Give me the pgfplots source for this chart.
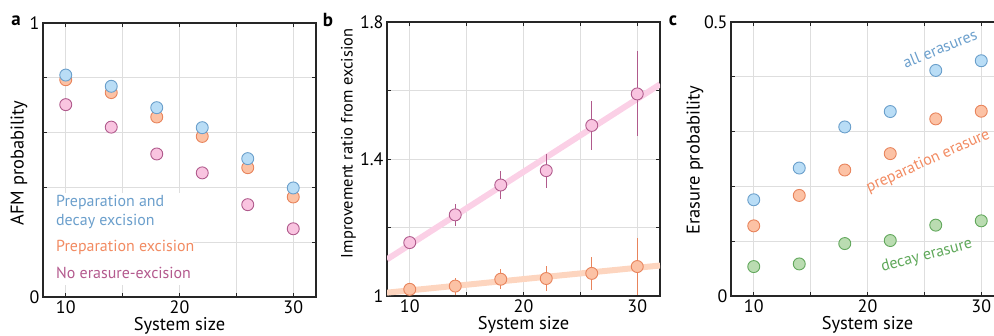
\documentclass[border=0pt]{standalone}
\usepackage{fontspec}
\setmainfont{PT Sans}
\usepackage{pgfplots}
\pgfplotsset{compat=1.18}

\definecolor{bfill}{HTML}{B9DDF6}
\definecolor{bedge}{HTML}{6A9FCB}
\definecolor{ofill}{HTML}{FCC2A5}
\definecolor{oedge}{HTML}{E8845C}
\definecolor{pfill}{HTML}{F9C4E0}
\definecolor{pedge}{HTML}{B05A8C}
\definecolor{gfill}{HTML}{BADCB1}
\definecolor{gedge}{HTML}{62A85C}
\definecolor{btext}{HTML}{6B9FCC}
\definecolor{otext}{HTML}{F28B62}
\definecolor{ptext}{HTML}{B45A8E}
\definecolor{gtext}{HTML}{5FA85A}
\definecolor{pline}{HTML}{FBD0E6}
\definecolor{oline}{HTML}{FDD5BF}

\pgfplotsset{
  panel/.style={
    scale only axis, width=273bp, height=274bp, anchor=south west,
    xmin=8, xmax=32,
    xtick={10,15,20,25,30}, xticklabels={10,,20,,30},
    grid=major, major grid style={draw=black!13, line width=0.8bp},
    axis line style={line width=1.1bp, black!85},
    tick style={black!85, line width=0.8bp},
    major tick length=4bp,
    tick align=inside,
    font=\fontsize{16}{19}\selectfont,
    tick label style={font=\fontsize{18}{21}\selectfont},
    label style={font=\fontsize{18.5}{21}\selectfont},
    /pgf/number format/assume math mode=true,
    xlabel={System size},
    xlabel style={at={(axis description cs:0.5,-0.104)}, anchor=center},
  },
  mk/.style n args={2}{only marks, mark=*, mark size=6bp,
    mark options={fill=#1, draw=#2, line width=0.9bp}},
  eb/.style={error bars/.cd, y dir=both, y explicit, error mark=none,
    error bar style={line width=1.2bp, color=#1}},
}

\begin{document}
\begin{tikzpicture}
% ---------------- panel a ----------------
\begin{axis}[panel, at={(43bp,39bp)},
  ymin=0, ymax=1, ytick={0,0.2,0.4,0.6,0.8,1}, yticklabels={0,,,,,1},
  ylabel={AFM probability},
  ylabel style={at={(axis description cs:-0.088,0.489)}, anchor=center}]
\fill[white] (axis cs:8.12,0.045) rectangle (axis cs:21.2,0.38);
\addplot[mk={pfill}{pedge}] coordinates {(10,0.702) (14,0.620) (18,0.522) (22,0.453) (26,0.337) (30,0.249)};
\addplot[mk={ofill}{oedge}] coordinates {(10,0.793) (14,0.746) (18,0.657) (22,0.586) (26,0.472) (30,0.365)};
\addplot[mk={bfill}{bedge}] coordinates {(10,0.810) (14,0.769) (18,0.691) (22,0.618) (26,0.505) (30,0.398)};
\node[anchor=west, text=btext, inner sep=0pt] at (axis cs:9.14,0.344) {Preparation and};
\node[anchor=west, text=btext, inner sep=0pt] at (axis cs:9.14,0.275) {decay excision};
\node[anchor=west, text=otext, inner sep=0pt] at (axis cs:9.14,0.180) {Preparation excision};
\node[anchor=west, text=ptext, inner sep=0pt] at (axis cs:9.14,0.0865) {No erasure-excision};
\end{axis}
% ---------------- panel b ----------------
\begin{axis}[panel, at={(387bp,40bp)},
  ymin=1, ymax=1.8, ytick={1,1.2,1.4,1.6,1.8}, yticklabels={1,,1.4,,1.8},
  ylabel={Improvement ratio from excision},
  ylabel style={at={(axis description cs:-0.141,0.557)}, anchor=center,
    font=\fontsize{16.5}{19}\selectfont}]
\addplot[pline, line width=6bp] coordinates {(8,1.107) (32,1.618)};
\addplot[oline, line width=6bp] coordinates {(8,1.0098) (32,1.089)};
\addplot[mk={pfill}{pedge}, eb=pedge] table[x=x, y=y, y error=e] {
x y e
10 1.156 0.018
14 1.237 0.032
18 1.324 0.042
22 1.366 0.050
26 1.498 0.072
30 1.590 0.124
};
\addplot[mk={ofill}{oedge}, eb=oedge] table[x=x, y=y, y error=e] {
x y e
10 1.0195 0.012
14 1.029 0.025
18 1.049 0.030
22 1.051 0.037
26 1.066 0.049
30 1.086 0.084
};
\end{axis}
% ---------------- panel c ----------------
\begin{axis}[panel, at={(731bp,40bp)},
  ymin=0, ymax=0.5, ytick={0,0.1,0.2,0.3,0.4,0.5}, yticklabels={0,,,,,0.5},
  ylabel={Erasure probability},
  ylabel style={at={(axis description cs:-0.132,0.496)}, anchor=center}]
\addplot[mk={bfill}{bedge}, eb=bedge] table[x=x, y=y, y error=e] {
x y e
10 0.1756 0.003
14 0.2335 0.003
18 0.3085 0.003
22 0.3366 0.004
26 0.4116 0.005
30 0.4293 0.009
};
\addplot[mk={ofill}{oedge}, eb=oedge] table[x=x, y=y, y error=e] {
x y e
10 0.128 0.003
14 0.1835 0.003
18 0.2299 0.003
22 0.2598 0.004
26 0.3232 0.005
30 0.3372 0.009
};
\addplot[mk={gfill}{gedge}, eb=gedge] table[x=x, y=y, y error=e] {
x y e
10 0.0537 0.002
14 0.0585 0.002
18 0.0957 0.002
22 0.1012 0.003
26 0.1293 0.003
30 0.1372 0.004
};
\node[text=btext, rotate=22] at (axis cs:26.37,0.452) {all erasures};
\node[text=otext, rotate=24] at (axis cs:25.34,0.246) {preparation erasure};
\node[text=gtext, rotate=15] at (axis cs:25.2,0.073) {decay erasure};
\end{axis}
\node[font=\bfseries\fontsize{19}{21}\selectfont] at (16bp,315bp) {a};
\node[font=\bfseries\fontsize{19}{21}\selectfont] at (328bp,316bp) {b};
\node[font=\bfseries\fontsize{19}{21}\selectfont] at (673bp,315bp) {c};
\pgfresetboundingbox
\path[use as bounding box] (0,0) rectangle (994bp,336bp);
\end{tikzpicture}
\end{document}
